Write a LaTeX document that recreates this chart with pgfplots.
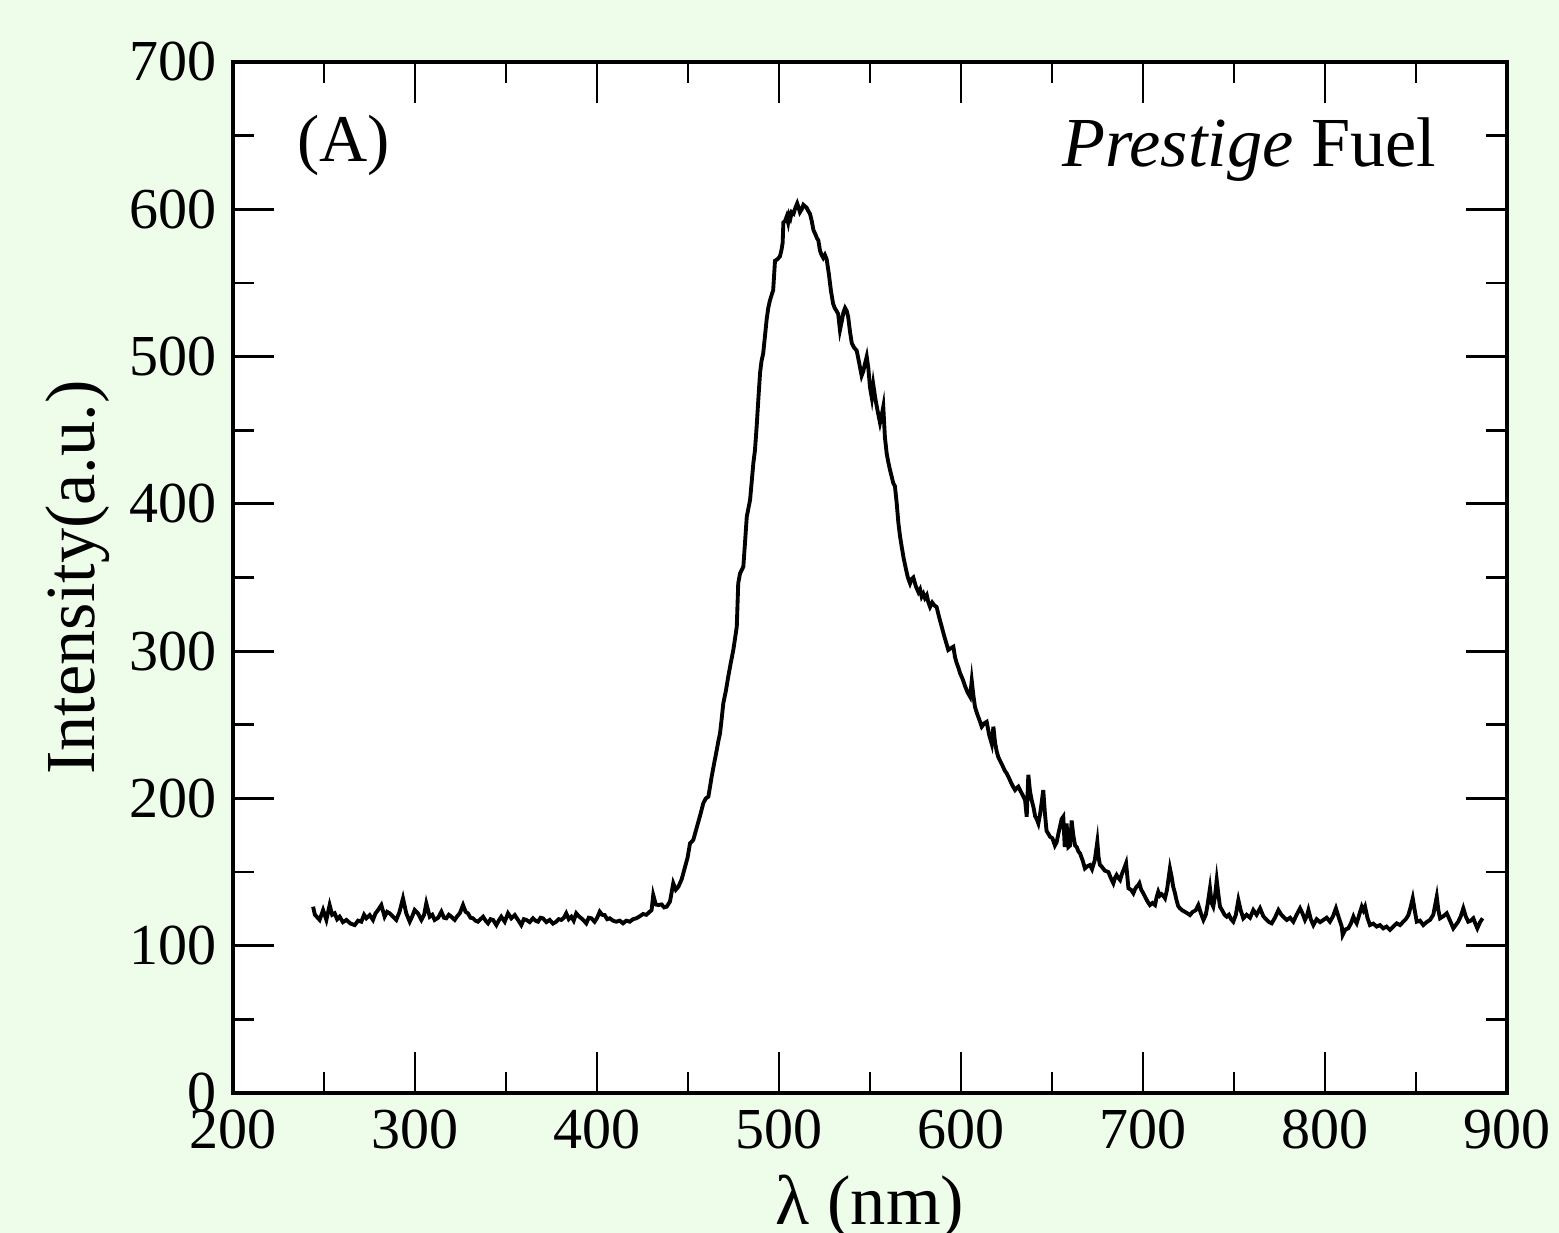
\documentclass[border=0pt]{standalone}
\usepackage{fontspec}
\setmainfont{Liberation Serif}
\usepackage{pgfplots}
\pgfplotsset{compat=1.18}
\definecolor{pagebg}{HTML}{EEFCEA}

\begin{document}
\begin{tikzpicture}
\fill[pagebg] (-23.3mm,-14.0mm) rectangle (132.6mm,109.3mm);
\begin{axis}[
  scale only axis,
  width=127.4mm, height=103.1mm,
  xmin=200, xmax=900, ymin=0, ymax=700,
  xtick={200,300,...,900}, ytick={0,100,...,700},
  minor x tick num=1, minor y tick num=1,
  tick align=inside,
  major tick length=4.1mm, minor tick length=2.1mm,
  axis line style={line width=0.9pt},
  every tick/.style={black, line width=0.8pt},
  axis background/.style={fill=white},
  /pgf/number format/assume math mode=true,
  tick label style={font=\fontsize{16.5}{18}\selectfont},
  yticklabel style={xshift=-0.4mm},
  xticklabel style={yshift=-0.5mm},
  xlabel={λ (nm)},
  ylabel={Intensity(a.u.)},
  every axis x label/.style={at={(axis description cs:0.5,-0.128)}, anchor=base,
    font=\fontsize{20}{22}\selectfont},
  every axis y label/.style={at={(axis description cs:-0.122,0.5)}, rotate=90, anchor=center,
    font=\fontsize{20}{22}\selectfont},
]
\addplot[black, line width=1.1pt] coordinates {
(244,126.5) (245,121) (246,119.7) (247.6,117.5) (249.5,124.2) (251.3,117.5) (253.1,127.6)
(254.5,121) (255.9,122) (257.2,118) (258.6,119.7) (260.4,116) (262.3,117.5) (264.6,115)
(266.9,114) (268.7,117) (270.5,116.3) (272,121) (273.3,118.6) (275.1,120.8) (276.9,117.5)
(278.3,122) (279.7,124.2) (281.5,127.6) (283.3,119.7) (284.7,123) (286.1,122) (287.9,119.7)
(289.7,117.5) (291.5,123) (293.4,132.2) (295.2,122) (297.1,116.3) (298.5,120) (299.8,124.2)
(301.6,122) (303.5,117.5) (305,121) (306.2,128.8) (308.1,119.7) (309.5,121) (310.8,117.5)
(312.7,119) (314.5,123.1) (315.9,119) (317.2,118.6) (318.6,121) (320,119.7) (321.8,117.5)
(323.2,120) (324.6,122) (326.4,127.6) (327.8,123) (329.1,122) (330.5,119) (331.9,118.6)
(333.2,117) (334.6,116.3) (336,118) (337.4,119.7) (338.8,117) (340.1,115.2) (341.5,118)
(342.9,117.5) (344.7,114) (346,117) (347.4,119.7) (349.3,116.3) (351.1,122) (352.9,118.6)
(354.8,120.8) (356.6,117.5) (358.4,114) (359.8,118) (361.2,117.5) (363,116) (364.8,118.6)
(366.2,117) (367.6,116.3) (369,119) (370.3,118.6) (372.2,116) (374,117.5) (375.8,115)
(377.6,116.3) (379,118) (380.4,117.5) (381.8,119) (383.1,122) (384.5,118) (385.9,119.7)
(387.2,117) (388.6,122) (390,120) (391.4,118.6) (392.8,117) (394.1,115.2) (395.5,119)
(396.9,118.6) (398.7,116.3) (400.1,119) (401.5,123.1) (402.8,121) (404.2,120.8) (405.6,118)
(407,118.6) (408.8,117) (410.6,116.3) (412.5,117) (414.3,115.2) (416.1,117) (418,116.3)
(419.8,118) (421.6,118.6) (423.5,120) (425.3,121.5) (427.1,121) (429,123.1) (430,124.2)
(430.9,134.4) (432.3,128) (433.7,127.6) (435.5,128) (436.9,126) (438.3,126.5) (440.1,130)
(441.9,142.4) (443.3,138) (444.7,140) (446.5,145) (448.4,153.6) (449.8,160) (451.1,169.5)
(452.9,171.8) (454.3,178) (455.7,184.2) (457,190) (458.4,196.7) (459.8,200) (461.2,201.2)
(462.1,208) (463,214.7) (464.4,224) (465.8,232.9) (466.7,239) (467.6,244.2) (468.5,254)
(469.4,264.6) (470.8,273) (472.1,282.6) (473.5,292) (474.9,300.8) (475.9,309) (476.8,316.6)
(477.6,346) (478.6,352.8) (479.5,355) (480.4,357.3) (481.3,373.2) (482.3,391.3) (483.2,397)
(484.1,402.6) (485,415) (485.9,427.5) (486.8,436.5) (487.7,452) (488.6,470) (489.6,489)
(490.4,497) (491.3,502) (492.3,514) (493.2,525) (494.1,533) (495,538) (496,542) (496.8,545)
(497.8,565) (499.1,566) (500.5,568) (501.3,572) (502,577) (502.4,591) (503.3,592) (504.2,595)
(505,591) (505.6,596) (506.3,594) (507,598) (508,597) (509,601) (510,604) (510.8,601)
(511.5,598) (512.5,600) (513.4,603) (514.3,602) (515.2,601) (516,599) (517,597) (518,592)
(518.9,586) (520,583) (521,580) (521.6,579) (522,576) (522.5,572) (523.4,569) (524.3,567)
(525.2,569) (526.2,566) (527.4,556) (528.5,545) (529.7,536) (530.6,533) (531.6,531)
(532.5,529) (533.5,518) (534.5,524) (535.4,530) (536.3,533) (537.2,531) (538,527) (539,517)
(540,509) (541.3,506) (542.7,504) (544,496) (545.4,487) (546.3,490) (547.2,495) (548.2,500)
(549.1,492) (550,479) (551,472) (551.8,481) (553,471) (554.2,463) (555.5,455) (556.4,460)
(557.3,466) (558.2,445) (559.2,434) (560.1,428) (561,423) (562,418) (562.8,414) (563.7,412)
(564.7,400) (565.6,387) (566.5,378) (567.4,371) (568.5,363) (569.7,356) (570.8,350)
(572,346) (572.9,349) (573.8,350) (575.2,344) (576.6,340) (577.5,342) (578.4,337)
(579.3,339) (580.2,336) (581.2,338) (582.1,333) (583,330) (584.2,333) (585.4,331)
(586.6,330) (588,323) (589.4,316.6) (590.6,311) (591.8,306) (593,300.8) (594.4,302)
(595.8,303) (596.7,296) (597.6,292) (598.5,289) (599.5,285) (600.9,281) (602.3,276)
(603.6,272) (605,269) (605.9,280) (606.8,270) (607.7,262) (609,257) (610.2,253)
(611.4,248.7) (612.8,251) (614.1,252) (615.5,243) (616.9,237) (617.8,248.7) (618.7,238)
(619.6,232) (620.5,228) (621.7,225) (622.9,222) (624,219) (625.1,217) (626.3,214)
(627.4,211) (628.6,208) (629.7,205.7) (630.6,207) (631.5,208) (632.7,205) (634,202)
(635.2,199) (636.1,187.6) (637,216) (637.9,205) (638.8,199) (640,193) (640.7,188)
(641.6,186) (642.5,183) (643.4,189) (644.3,197) (645.2,205.7) (646.1,190) (647,178)
(648,176) (648.9,174) (650.2,173) (651.6,168) (652.5,170) (653.5,176) (654.4,181)
(655.3,186) (656.2,187.6) (657,167) (658,183) (659,167) (659.9,168) (660.8,185)
(661.7,175) (662.7,168) (663.6,167) (664.5,164) (665.4,162.7) (666.8,158) (668.1,152.5)
(669.5,154) (670.9,154.8) (672,152) (673.5,158) (674.9,170.6) (675.6,160) (676.3,155)
(677.3,153.7) (679,151) (681,150) (682.3,146) (683.7,142.4) (684.6,146) (685.5,148)
(686.5,146) (687.4,144.6) (688.5,149) (689.5,152) (690.7,156) (692,139) (693.4,138)
(694.7,135.6) (695.5,138) (696.4,140) (697.3,141) (698,142.4) (699,138) (700,136)
(701.1,133.3) (702.5,130) (703.8,127.6) (705.2,129) (706.6,127.6) (707.5,133) (708.4,136.7)
(709.3,134) (710.2,135) (711.1,134) (712.1,132.2) (713.2,138) (714.3,148) (714.8,152.5)
(715.7,147) (716.6,140) (717.5,136) (718.4,131) (719.3,127) (720.3,125.4) (721.6,124)
(723,123) (724.4,122) (725.8,120.8) (727.3,123) (728.9,124) (730.4,127.6) (731.8,122)
(733.2,117.5) (734.5,121) (735.5,128) (736.8,139) (737.7,129) (738.6,126.5) (739.5,133)
(740.5,144.6) (741.4,135) (742.3,126.5) (743.5,124) (744.8,121) (746,119.7) (747.2,121)
(748.4,118) (749.6,116.3) (751,121) (752.4,131) (753.7,124) (755.1,118.6) (756.9,121)
(758.8,119) (760.6,124.2) (762.4,121) (764.3,125.4) (766.1,120) (768,117.5) (769.3,116)
(770.7,115.2) (772.5,119) (774.4,124.2) (776,121) (777.6,119) (779,117.5) (780.8,119)
(782.6,116.3) (784.4,121) (786.3,125.4) (787.6,122) (789,117.5) (790,120) (790.9,124.2)
(792.2,118) (793.6,114) (795.4,118) (797.3,116) (799.1,117.5) (800.9,119) (802.7,116.3)
(804.4,120) (806,125.4) (807.6,119) (809.2,113) (809.7,107.3) (811.2,111) (812.8,111.8)
(814.2,115) (815.6,119.7) (816.5,117) (817.4,115.2) (818.8,121) (820.2,126.5) (821.1,124)
(822,126.5) (823.3,119) (824.7,114) (826.5,115) (828.4,113) (830.2,114) (832,111.8)
(833.8,113) (835.7,110.7) (837.5,113) (839.4,115.2) (841.2,114) (843,116.3) (844.4,118)
(845.8,120.8) (847,126) (848.2,132.2) (849.3,124) (850.4,116.3) (852.2,117) (854,114)
(855.8,116) (857.7,117.5) (859.5,121) (861.4,133.3) (862.3,124) (863.2,118.6) (865,120)
(866.9,122) (868.7,117) (870.5,111.8) (871.8,114) (873.2,116.3) (874.6,120) (876,125.4)
(877.3,120) (878.7,116.3) (880.1,117) (881.5,118.6) (882.6,115) (883.7,111.8) (885.2,116)
(886.6,118.6)
};
\node[anchor=base west, inner sep=0pt, font=\fontsize{19}{21}\selectfont] at (rel axis cs:0.050,0.903) {(A)};
\node[anchor=base east, inner sep=0pt, font=\fontsize{20}{22}\selectfont] at (rel axis cs:0.945,0.8985) {\textit{Prestige} Fuel};
\end{axis}
\pgfresetboundingbox
\useasboundingbox (-23.3mm,-14.0mm) rectangle (132.6mm,109.3mm);
\end{tikzpicture}
\end{document}
